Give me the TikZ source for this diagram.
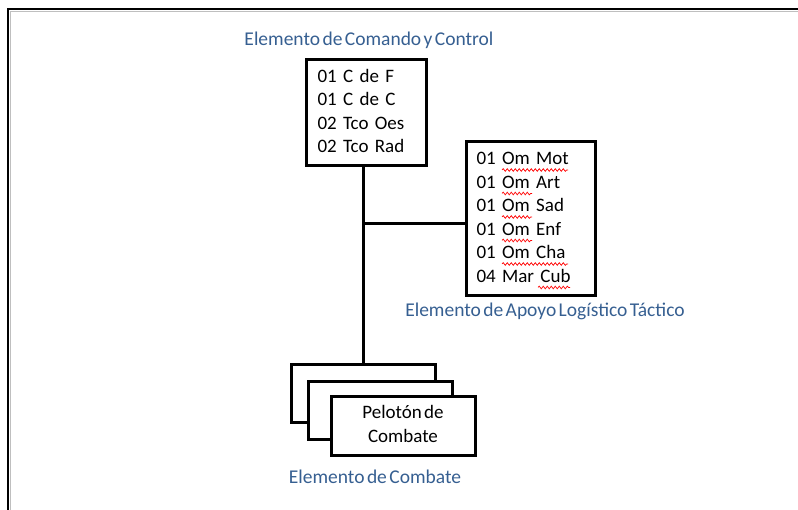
\documentclass[tikz,border=0pt]{standalone}
\usepackage{fontspec}
\setmainfont[WordSpace=0.55]{Carlito}
\usepackage{tikz}
\usetikzlibrary{positioning,decorations.pathmorphing}
\definecolor{lblue}{RGB}{54,95,145}

\begin{document}
\begin{tikzpicture}[x=1pt, y=-1pt, every node/.style={font=\fontsize{19}{23.5}\selectfont}, box/.style={draw, line width=3pt, fill=white, inner sep=0pt}, lbl/.style={text=lblue, font=\fontsize{19.5}{20}\selectfont}, spell/.style={red, line width=0.7pt, decorate, decoration={snake, segment length=4pt, amplitude=1.3pt}}]
	\useasboundingbox (0,0) rectangle (798,510);
	% frame
	\draw[gray!50, line width=1pt] (798,11.5) -- (10,11.5) -- (10,510);
	\draw[line width=2pt] (798,9) -- (8,9) -- (8,510);
	% command and control
	\node[lbl] (lcc) at (369,40) {Elemento de Comando y Control};
	\node[box, minimum width=120pt, minimum height=106pt, text width=97pt] (cc) at (366,113) {\begin{tabular}{@{}l@{}}01 C de F\\01 C de C\\02 Tco Oes\\02 Tco Rad\end{tabular}};
	% logistic support
	\node[box, minimum width=129pt, minimum height=154pt, text width=108pt] (alt) at (530.5,219) {\begin{tabular}{@{}l@{}}01 Om Mot\\01 Om Art\\01 Om Sad\\01 Om Enf\\01 Om Cha\\04 Mar Cub\end{tabular}};
	\node[lbl] (lalt) at (545,311) {Elemento de Apoyo Logístico Táctico};
	% spelling marks
	\foreach \a/\b/\y in {502/568/170, 502/532/193.5, 502/532/217, 502/532/240.5, 502/568/264, 538/570/287.5}
		\draw[spell] (\a,\y) -- (\b,\y);
	% combat
	\node[box, minimum width=144pt, minimum height=58pt] (pel1) at (363,394) {};
	\node[box, minimum width=144pt, minimum height=58pt] (pel2) at (380,410.5) {};
	\node[box, minimum width=144pt, minimum height=58pt] (pel3) at (403,426) {\begin{tabular}{@{}c@{}}Pelotón de\\Combate\end{tabular}};
	\node[lbl] (lpel) at (375,477) {Elemento de Combate};
	% links
	\draw[line width=3pt] (cc.south -| pel1.north) -- (pel1.north);
	\draw[line width=3pt] ([yshift=-5pt]alt.west) -- ([yshift=-5pt]alt.west -| pel1.north);
\end{tikzpicture}
\end{document}
